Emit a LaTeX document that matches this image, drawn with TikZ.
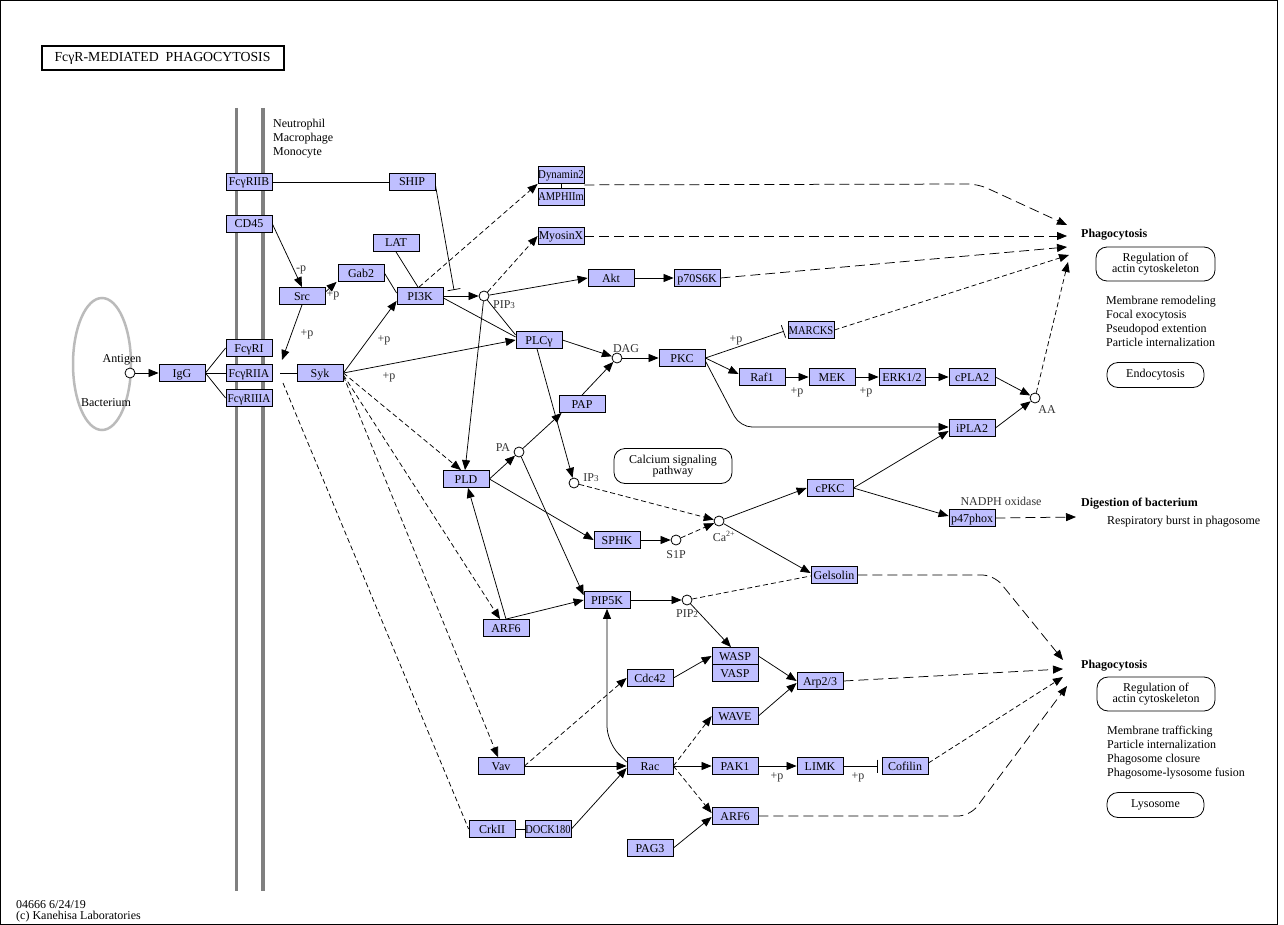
\documentclass[tikz,border=0pt]{standalone}
\usepackage{fontspec}
\setmainfont{Liberation Serif}
\usepackage{graphicx}
\usetikzlibrary{arrows.meta,calc}
\definecolor{genefill}{HTML}{BFBFFF}
\definecolor{memgray}{HTML}{808080}
\definecolor{ellgray}{HTML}{BBBBBB}
\definecolor{lblgray}{HTML}{333333}
\newcommand\gf{\fontsize{12}{12}\selectfont}
\newcommand\nar[2]{\scalebox{#1}[1]{#2}}
\newcommand\smallidx[1]{\raisebox{-0.5pt}{\fontsize{9}{9}\selectfont #1}}
\begin{document}
\begin{tikzpicture}[x=1pt,y=-1pt,
 gene/.style={draw=black,fill=genefill,line width=0.8pt,minimum width=46pt,minimum height=17pt,inner sep=0pt,font=\gf,text height=8pt,text depth=0pt},
 cpd/.style={circle,draw=black,fill=white,line width=0.8pt,minimum size=10pt,inner sep=0pt},
 lbl/.style={font=\gf,inner sep=0pt,text height=8pt,text depth=0pt},
 plbl/.style={lbl,text=lblgray},
 edge/.style={line width=0.75pt},
 act/.style={edge,-{Triangle[length=10pt,width=8pt]}},
 inh/.style={edge,-{Bar[width=13pt]}},
 dl/.style={dash pattern=on 10pt off 5pt},
 ds/.style={dash pattern=on 5pt off 3pt},
 mapbox/.style={draw=black,line width=0.8pt,rounded corners=11pt,font=\fontsize{12}{11}\selectfont,align=center,inner sep=0pt}
]
\useasboundingbox (0,0) rectangle (1284,925);
\draw[line width=1pt] (0.5,0.5) rectangle (1277,924.5);

% title
\node[draw=black,line width=2pt,minimum width=242pt,minimum height=24pt,inner sep=0pt,font=\fontsize{13.8}{13.8}\selectfont] (title) at (162.5,58.5) {FcγR-MEDIATED\ \ PHAGOCYTOSIS};

% membrane
\draw[memgray,line width=3.5pt] (236.5,108) -- (236.5,891);
\draw[memgray,line width=3.5pt] (263,108) -- (263,891);
\node[lbl,anchor=west] (cell1) at (273,124) {Neutrophil};
\node[lbl,anchor=west] (cell2) at (273,138) {Macrophage};
\node[lbl,anchor=west] (cell3) at (273,152) {Monocyte};

% bacterium
\draw[ellgray,line width=2.5pt] (102,364) ellipse [x radius=29pt,y radius=66pt];
\node[lbl] (antlbl) at (122,358) {Antigen};
\node[lbl] (baclbl) at (106,402) {Bacterium};
\node[cpd] (antigen) at (130,373) {};

% genes
\node[gene] (FcgRIIB) at (249,182) {\nar{0.97}{FcγRIIB}};
\node[gene] (SHIP) at (412,182) {SHIP};
\node[gene] (CD45) at (249,224) {CD45};
\node[gene] (Src) at (302,296) {Src};
\node[gene] (Gab2) at (361,273) {Gab2};
\node[gene] (LAT) at (396,243) {LAT};
\node[gene] (PI3K) at (420,296) {PI3K};
\node[gene] (Dyn) at (561,175) {\nar{0.9}{Dynamin2}};
\node[gene] (AMPH) at (561,197) {\nar{0.87}{AMPHIIm}};
\node[gene] (MyoX) at (561,236) {\nar{0.98}{MyosinX}};
\node[gene] (Akt) at (611,278) {Akt};
\node[gene] (p70) at (697,278) {p70S6K};
\node[gene] (PLCg) at (539,340) {PLCγ};
\node[gene] (PKC) at (682,358) {PKC};
\node[gene] (MARCKS) at (811,330) {\nar{0.88}{MARCKS}};
\node[gene] (Raf1) at (762,377) {Raf1};
\node[gene] (MEK) at (832,377) {MEK};
\node[gene] (ERK) at (902,377) {ERK1/2};
\node[gene] (cPLA2) at (972,377) {cPLA2};
\node[gene] (iPLA2) at (972,428) {iPLA2};
\node[gene] (PAP) at (582,404) {PAP};
\node[gene] (PLD) at (466,479) {PLD};
\node[gene] (SPHK) at (617,540) {SPHK};
\node[gene] (cPKC) at (830,488) {cPKC};
\node[gene] (p47) at (972,518) {p47phox};
\node[gene] (Gelsolin) at (834,575) {Gelsolin};
\node[gene] (PIP5K) at (607,600) {PIP5K};
\node[gene] (ARF6a) at (506,628) {ARF6};
\node[gene] (Cdc42) at (650,678) {Cdc42};
\node[gene] (WASP) at (735,656) {WASP};
\node[gene] (VASP) at (735,673) {VASP};
\node[gene] (Arp23) at (820,681) {Arp2/3};
\node[gene] (WAVE) at (735,716) {WAVE};
\node[gene] (Vav) at (501,766) {Vav};
\node[gene] (Rac) at (650,766) {Rac};
\node[gene] (PAK1) at (735,766) {PAK1};
\node[gene] (LIMK) at (820,766) {LIMK};
\node[gene] (Cofilin) at (905,766) {Cofilin};
\node[gene] (CrkII) at (492,829) {CrkII};
\node[gene] (DOCK) at (548,829) {\nar{0.87}{DOCK180}};
\node[gene] (ARF6b) at (735,816) {ARF6};
\node[gene] (PAG3) at (650,848) {PAG3};
\node[gene] (FcgRI) at (249,348) {FcγRI};
\node[gene] (FcgRIIA) at (249,373) {\nar{0.97}{FcγRIIA}};
\node[gene] (FcgRIIIA) at (249,398) {\nar{0.93}{FcγRIIIA}};
\node[gene] (IgG) at (182,373) {IgG};
\node[gene] (Syk) at (320,373) {Syk};

% compounds
\node[cpd] (PIP3) at (484,296) {};
\node[cpd] (DAG) at (617,358) {};
\node[cpd] (AA) at (1035,398) {};
\node[cpd] (PA) at (519,452) {};
\node[cpd] (IP3) at (574,483) {};
\node[cpd] (Ca) at (719,521) {};
\node[cpd] (S1P) at (676,540) {};
\node[cpd] (PIP2) at (687,600) {};
\node[plbl] (PIP3l) at (504,304) {PIP\smallidx{3}};
\node[plbl] (DAGl) at (626,348) {DAG};
\node[plbl] (AAl) at (1047,409) {AA};
\node[plbl] (PAl) at (503,447) {PA};
\node[plbl] (IP3l) at (591,477) {IP\smallidx{3}};
\node[plbl] (Cal) at (724,537) {Ca\textsuperscript{2+}};
\node[plbl] (S1Pl) at (676,554) {S1P};
\node[plbl] (PIP2l) at (687,613) {PIP\smallidx{2}};

% +p labels
\node[plbl] (p1) at (301,267) {-p};
\node[plbl] (p2) at (333,293) {+p};
\node[plbl] (p3) at (307,332) {+p};
\node[plbl] (p4) at (384,338) {+p};
\node[plbl] (p5) at (389,375) {+p};
\node[plbl] (p6) at (736,338) {+p};
\node[plbl] (p7) at (797,390) {+p};
\node[plbl] (p8) at (866,390) {+p};
\node[plbl] (p9) at (777,775) {+p};
\node[plbl] (p10) at (858,775) {+p};

% right side phenotypes
\node[lbl,anchor=west,font=\gf\bfseries] (phag1) at (1081,234) {Phagocytosis};
\node[mapbox,minimum width=119pt,minimum height=34pt] (reg1) at (1155.5,264) {Regulation of\\ actin cytoskeleton};
\node[lbl,anchor=west] (t1) at (1106,300) {Membrane remodeling};
\node[lbl,anchor=west] (t2) at (1106,314) {Focal exocytosis};
\node[lbl,anchor=west] (t3) at (1106,328) {Pseudopod extention};
\node[lbl,anchor=west] (t4) at (1106,342) {Particle internalization};
\node[mapbox,minimum width=97pt,minimum height=25pt] (endo) at (1155.5,375) {Endocytosis};
\node[lbl,anchor=west,font=\gf\bfseries] (dig1) at (1081,502) {Digestion of bacterium};
\node[lbl,anchor=west] (dig2) at (1107,520) {Respiratory burst in phagosome};
\node[plbl] (nadph) at (1001,501) {NADPH oxidase};
\node[lbl,anchor=west,font=\gf\bfseries] (phag2) at (1081,664) {Phagocytosis};
\node[mapbox,minimum width=118pt,minimum height=34pt] (reg2) at (1156,694) {Regulation of\\ actin cytoskeleton};
\node[lbl,anchor=west] (u1) at (1107,730) {Membrane trafficking};
\node[lbl,anchor=west] (u2) at (1107,744) {Particle internalization};
\node[lbl,anchor=west] (u3) at (1107,758) {Phagosome closure};
\node[lbl,anchor=west] (u4) at (1107,772) {Phagosome-lysosome fusion};
\node[mapbox,minimum width=97pt,minimum height=25pt] (lyso) at (1155.5,805) {Lysosome};
\node[mapbox,minimum width=118pt,minimum height=35pt] (calc) at (673,466) {Calcium signaling\\ pathway};

% footer
\node[lbl,anchor=west] (f1) at (16,904) {04666 6/24/19};
\node[lbl,anchor=west] (f2) at (16,915) {(c) Kanehisa Laboratories};

% free-end coordinates
\coordinate (shipT) at (454,290);
\coordinate (sykin) at (282,360);
\coordinate (j1) at (280,373);
\coordinate (j2) at (283,383);
\coordinate (ph1) at (1067,225);
\coordinate (ph2) at (1067,236);
\coordinate (ph3) at (1067,247);
\coordinate (ph4) at (1069,255);
\coordinate (ph5) at (1068,262);
\coordinate (ph6) at (1063,660);
\coordinate (ph7) at (1063,669);
\coordinate (ph8) at (1063,677);
\coordinate (ph9) at (1067,686);
\coordinate (digT) at (1076,517);

% edges
\draw[edge] (FcgRIIB.east) -- (SHIP.west);
\draw[inh] ([yshift=-3pt]SHIP.east) -- (shipT);
\draw[act] (CD45.east) -- (Src.north);
\draw[act] ([yshift=4pt]Src.east) -- ([xshift=-1pt]Gab2.south west);
\draw[edge] (Gab2.east) -- ([yshift=3pt]PI3K.west);
\draw[edge] (LAT.south) -- ([xshift=-2pt]PI3K.north);
\draw[act] (Src.south) -- (sykin);
\draw[edge] (IgG.east) -- (FcgRI.west);
\draw[edge] (IgG.east) -- (FcgRIIA.west);
\draw[edge] (IgG.east) -- (FcgRIIIA.west);
\draw[act] (antigen) -- (IgG.west);
\draw[edge] (j1) -- (Syk.west);
\draw[act] (Syk.east) -- ([yshift=4pt]PI3K.south west);
\draw[act] (Syk.east) -- (PLCg.west);
\draw[act,ds] (Syk.east) -- ([xshift=-5pt]PLD.north);
\draw[act,ds] ([yshift=-2pt]Syk.east) -- ([xshift=-6pt]ARF6a.north);
\draw[act,ds] ([yshift=-3pt]Syk.east) -- ([xshift=-3pt]Vav.north);
\draw[edge,ds] (j2) -- (CrkII.west);
\draw[act] (PI3K.east) -- (PIP3);
\draw[edge] ([yshift=-2pt]PI3K.east) -- ([yshift=3pt]PLCg.west);
\draw[edge] (PIP3) -- ([yshift=5pt]PLCg.west);
\draw[act,ds] ([xshift=-1pt]PI3K.north) -- (Dyn.south west);
\draw[act,ds] (PIP3) -- (MyoX.west);
\draw[act] (PIP3) -- (Akt.west);
\draw[act] (Akt.east) -- (p70.west);
\draw[act] (PIP3) -- ([xshift=-1pt]PLD.north);
\draw[edge] (Dyn.south) -- (AMPH.north);
\draw[act,dl,rounded corners=10pt] ([yshift=-1pt]Dyn.south east) -- (978,184) -- (ph1);
\draw[act,dl] (MyoX.east) -- (ph2);
\draw[act,dl] (p70.east) -- (ph3);
\draw[act,ds] (MARCKS.east) -- (ph4);
\draw[act,ds] (AA) -- (ph5);
\draw[act] (PLCg.east) -- (DAG);
\draw[act] ([xshift=-2pt]PLCg.south) -- (IP3);
\draw[act] (PAP.north) -- (DAG);
\draw[act] (DAG) -- (PKC.west);
\draw[inh,shorten >=4pt] (PKC.east) -- (MARCKS.west);
\draw[act] (PKC.east) -- ([yshift=3pt]Raf1.west);
\draw[act,rounded corners=12pt] ([yshift=-3pt]PKC.east) -- (740,427) -- ([yshift=1pt]iPLA2.west);
\draw[act] (Raf1.east) -- (MEK.west);
\draw[act] (MEK.east) -- (ERK.west);
\draw[act] (ERK.east) -- (cPLA2.west);
\draw[act] (cPLA2.east) -- (AA);
\draw[act] (iPLA2.east) -- (AA);
\draw[act] (PLD.east) -- (PA);
\draw[act] (PA) -- ([xshift=3pt]PAP.south west);
\draw[act] (PA) -- ([yshift=-4pt]PIP5K.north west);
\draw[act] (PLD.east) -- (SPHK.west);
\draw[act] (ARF6a.north) -- ([xshift=2pt]PLD.south);
\draw[act] (ARF6a.north) -- (PIP5K.west);
\draw[act,ds] (IP3) -- (Ca);
\draw[act] (SPHK.east) -- (S1P);
\draw[act,ds] (S1P) -- (Ca);
\draw[act] (Ca) -- (cPKC.west);
\draw[act] (Ca) -- ([yshift=2pt]Gelsolin.west);
\draw[act] (cPKC.east) -- ([yshift=-3pt]iPLA2.west);
\draw[act] (cPKC.east) -- ([yshift=2pt]p47.west);
\draw[act,dl] (p47.east) -- (digT);
\draw[act,dl,rounded corners=12pt] (Gelsolin.east) -- (994,575) -- (ph6);
\draw[edge,ds] (PIP2) -- ([yshift=-1pt]Gelsolin.west);
\draw[act] (PIP5K.east) -- (PIP2);
\draw[act] (PIP2) -- ([xshift=-4pt]WASP.north);
\draw[act] (Cdc42.east) -- (WASP.west);
\draw[act] (WASP.east) -- (Arp23.west);
\draw[act] (WAVE.east) -- ([yshift=-2pt]Arp23.west);
\draw[act,dl] (Arp23.east) -- (ph7);
\draw[act,ds] (Vav.east) -- (Cdc42.west);
\draw[act] (Vav.east) -- (Rac.west);
\draw[act,rounded corners=16pt] ([yshift=4pt]Rac.west) -- (607,742) -- (PIP5K.south);
\draw[act] (DOCK.east) -- ([yshift=-2pt]Rac.west);
\draw[edge] (CrkII.east) -- (DOCK.west);
\draw[act,ds] (Rac.east) -- (WAVE.west);
\draw[act] (Rac.east) -- (PAK1.west);
\draw[act,ds] (Rac.east) -- ([yshift=3pt]ARF6b.west);
\draw[act] (PAG3.east) -- ([yshift=-1pt]ARF6b.west);
\draw[act] (PAK1.east) -- (LIMK.west);
\draw[inh,shorten >=4pt] (LIMK.east) -- (Cofilin.west);
\draw[act,ds] ([yshift=3pt]Cofilin.east) -- (ph8);
\draw[act,dl,rounded corners=12pt] (ARF6b.east) -- (970,816) -- (ph9);
\end{tikzpicture}
\end{document}
